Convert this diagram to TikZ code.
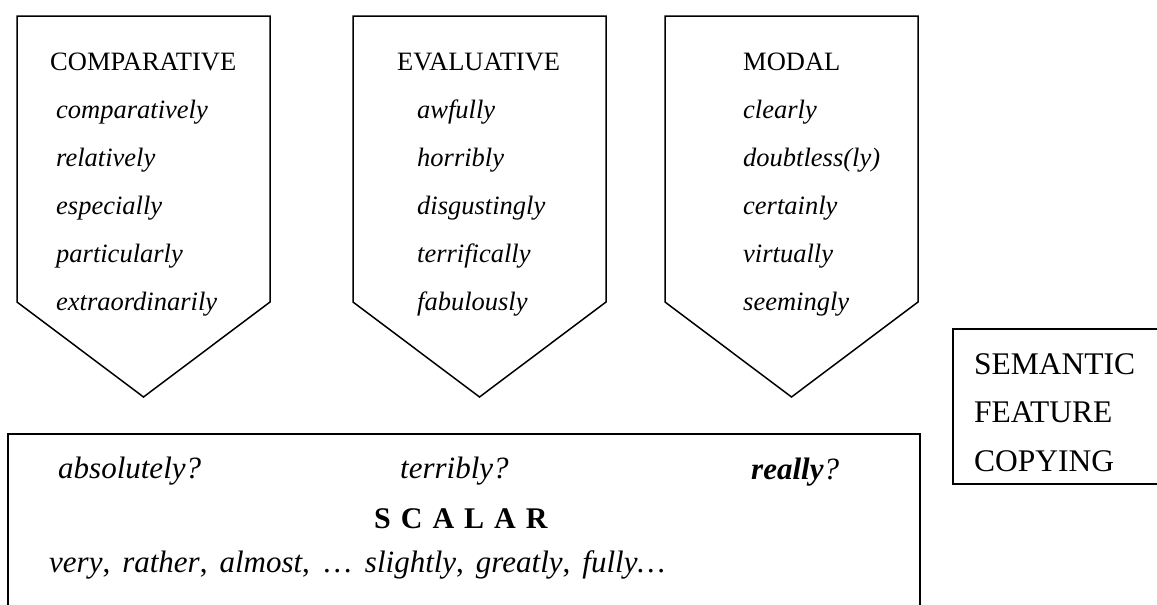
\documentclass[tikz,border=0pt]{standalone}
\usepackage{fontspec}
\setmainfont{Liberation Serif}
\begin{document}
\begin{tikzpicture}[x=1pt,y=-1pt,
  outline/.style={draw=black, line width=1.5pt, line join=miter},
  head/.style={anchor=base west, inner sep=0pt, font=\fontsize{26.5}{30}\selectfont},
  item/.style={anchor=base west, inner sep=0pt, font=\fontsize{26.5}{30}\selectfont\itshape},
  scal/.style={anchor=base west, inner sep=0pt, font=\fontsize{31}{36}\selectfont\itshape},
  scalhead/.style={anchor=base west, inner sep=0pt, font=\fontsize{30}{36}\selectfont\bfseries},
  scallist/.style={anchor=base west, inner sep=0pt, font=\fontsize{31}{36}\selectfont},
  sem/.style={anchor=base west, inner sep=0pt, font=\fontsize{31.5}{36}\selectfont},
]
\useasboundingbox (0,0) rectangle (1157,605);

% outlines: three downward arrow blocks, the scalar box and the side box
\begin{scope}
  \clip (0,0) rectangle (1157,605);
  \draw[outline] (17,16) -- (270,16) -- (270,302) -- (143.5,397) -- (17,302) -- cycle;
  \draw[outline] (353,16) -- (606,16) -- (606,302) -- (479.5,397) -- (353,302) -- cycle;
  \draw[outline] (665,16) -- (918,16) -- (918,302) -- (791.5,397) -- (665,302) -- cycle;
  \draw[outline] (8,434) rectangle (920,650);
  \draw[outline] (953,329) rectangle (1200,484);
\end{scope}

% comparative block
\node[head] (cmpH) at (50,70) {COMPARATIVE};
\foreach \w [count=\i from 0] in {comparatively,relatively,especially,particularly,extraordinarily}
  \node[item] (cmp\i) at (56,118+48*\i) {\w};

% evaluative block
\node[head] (evaH) at (397,70) {EVALUATIVE};
\foreach \w [count=\i from 0] in {awfully,horribly,disgustingly,terrifically,fabulously}
  \node[item] (eva\i) at (417,118+48*\i) {\w};

% modal block
\node[head] (modH) at (743,70) {MODAL};
\foreach \w [count=\i from 0] in {clearly,doubtless(ly),certainly,virtually,seemingly}
  \node[item] (mod\i) at (743,118+48*\i) {\w};

% scalar box
\node[scal] (absq) at (58,478) {absolutely?};
\node[scal] (terq) at (400,478) {terribly?};
\node[scal] (realq) at (751,479) {\textbf{really}?};
\node[scalhead] (scalar) at (374,528) {S\hspace{10pt}C\hspace{10pt}A\hspace{10pt}L\hspace{10pt}A\hspace{10pt}R};
\node[scallist] (list) at (49,572) {\spaceskip=12pt\textit{very}, \textit{rather}, \textit{almost}, … \textit{slightly}, \textit{greatly}, \textit{fully…}};

% side box
\node[sem] (sem1) at (974,374) {SEMANTIC};
\node[sem] (sem2) at (974,422) {FEATURE};
\node[sem] (sem3) at (974,471) {COPYING};
\end{tikzpicture}
\end{document}
